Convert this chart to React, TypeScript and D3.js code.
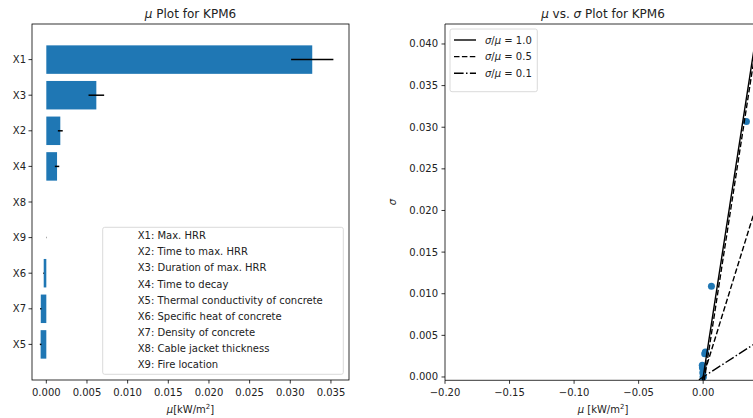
import React from "react";
import * as d3 from "d3";

// Morris screening results for KPM6
const categories = ["X1", "X3", "X2", "X4", "X8", "X9", "X6", "X7", "X5"];
const muValues = [0.0327, 0.00615, 0.00172, 0.00132, 0, 0.000005, -0.00032, -0.00068, -0.0007];
const muErrors = [0.0026, 0.00096, 0.0003, 0.00027, 0, 0.00002, 0.00004, 0.00008, 0.0001];

const legendLabels = [
  "X1: Max. HRR",
  "X2: Time to max. HRR",
  "X3: Duration of max. HRR",
  "X4: Time to decay",
  "X5: Thermal conductivity of concrete",
  "X6: Specific heat of concrete",
  "X7: Density of concrete",
  "X8: Cable jacket thickness",
  "X9: Fire location",
];

// mu / sigma pairs for the covariance plot
const pointMu = [0.0335, 0.0064, 0.0017, 0.0012, -0.0007, -0.0006, -0.0003, 0, 0.00002];
const pointSigma = [0.0307, 0.0109, 0.003, 0.0028, 0.0014, 0.0011, 0.0005, 0, 0.00003];

const ratios = [1.0, 0.5, 0.1];
const ratioDash = ["", "5.5,2.4", "9.6,2.4,1.5,2.4"];
const ratioLabels = ["1.0", "0.5", "0.1"];

const xTicksLeft = d3.range(0, 0.0351, 0.005);
const xTicksRight = [-0.2, -0.15, -0.1, -0.05, 0.0];
const yTicksRight = d3.range(0, 0.0401, 0.005);

const FONT = "DejaVu Sans";
const BLUE = "#1f77b4";

export default function App() {
  // left panel: horizontal bars of mu with error bars
  const L = { left: 32, right: 349, top: 24, bottom: 380 };
  const xL = d3.scaleLinear().domain([-0.00176, 0.03722]).range([L.left, L.right]);
  const yL = d3.scaleLinear().domain([-1, 9]).range([L.top, L.bottom]);
  const barH = yL(0.4) - yL(-0.4);

  // right panel: sigma vs mu
  const R = { left: 445, right: 761, top: 24, bottom: 380.3 };
  const xR = d3.scaleLinear().domain([-0.2, 0.0448]).range([R.left, R.right]);
  const yR = d3.scaleLinear().domain([-0.0004, 0.0424]).range([R.bottom, R.top]);
  const xBounds = xR.domain();

  const refLine = (r: number, offset = 0) =>
    d3.line<number>()
      .x((m) => xR(m))
      .y((m) => yR(r * (m - offset)))(xBounds) as string;

  const fmt3 = d3.format(".3f");
  const fmt2 = (v: number) => d3.format(".2f")(v).replace("-", "\u2212");

  return (
    <svg
      width={753}
      height={418}
      style={{ position: "absolute", left: 0, top: 0, background: "#fff" }}
      fontFamily={FONT}
    >
      <defs>
        <clipPath id="clipR">
          <rect x={R.left} y={R.top} width={R.right - R.left} height={R.bottom - R.top} />
        </clipPath>
      </defs>

      {/* ---------- left panel ---------- */}
      <text x={(L.left + L.right) / 2} y={18} fontSize={12} textAnchor="middle" fill="#222">
        <tspan fontStyle="italic">μ</tspan> Plot for KPM6
      </text>

      {categories.map((c, i) => {
        const v = muValues[i];
        const x0 = xL(Math.min(0, v));
        const x1 = xL(Math.max(0, v));
        return (
          <g key={c}>
            {Math.abs(x1 - x0) > 0.2 && (
              <rect x={x0} y={yL(i) - barH / 2} width={x1 - x0} height={barH} fill={BLUE} />
            )}
            {muErrors[i] > 0 && (
              <line
                x1={xL(v - muErrors[i])}
                x2={xL(v + muErrors[i])}
                y1={yL(i)}
                y2={yL(i)}
                stroke="#000"
                strokeWidth={1.5}
              />
            )}
          </g>
        );
      })}

      <rect
        x={L.left}
        y={L.top}
        width={L.right - L.left}
        height={L.bottom - L.top}
        fill="none"
        stroke="#000"
        strokeWidth={0.8}
      />

      {categories.map((c, i) => (
        <g key={"yt" + c}>
          <line x1={L.left - 3.5} x2={L.left} y1={yL(i)} y2={yL(i)} stroke="#000" strokeWidth={0.8} />
          <text x={L.left - 6} y={yL(i)} dy="0.35em" fontSize={10} textAnchor="end" fill="#222">
            {c}
          </text>
        </g>
      ))}

      {xTicksLeft.map((t) => (
        <g key={"xl" + t}>
          <line x1={xL(t)} x2={xL(t)} y1={L.bottom} y2={L.bottom + 3.5} stroke="#000" strokeWidth={0.8} />
          <text x={xL(t)} y={L.bottom + 16} fontSize={10} textAnchor="middle" fill="#222">
            {fmt3(t)}
          </text>
        </g>
      ))}
      <text x={(L.left + L.right) / 2} y={413} fontSize={10} textAnchor="middle" fill="#222">
        <tspan fontStyle="italic">μ</tspan>[kW/m
        <tspan dy={-4} fontSize={7}>2</tspan>
        <tspan dy={4}>]</tspan>
      </text>

      {/* variable legend */}
      <rect x={102.7} y={227.3} width={240.6} height={147} rx={2} fill="#fff" fillOpacity={0.8} stroke="#d0d0d0" strokeWidth={0.8} />
      {legendLabels.map((s, i) => (
        <text key={s} x={137.7} y={235.7 + i * 16.12} dy="0.35em" fontSize={10} fill="#222">
          {s}
        </text>
      ))}

      {/* ---------- right panel ---------- */}
      <text x={603} y={18} fontSize={12} textAnchor="middle" fill="#222">
        <tspan fontStyle="italic">μ</tspan> vs. <tspan fontStyle="italic">σ</tspan> Plot for KPM6
      </text>

      <g clipPath="url(#clipR)">
        {pointMu.map((m, i) => (
          <circle key={"p" + i} cx={xR(m)} cy={yR(pointSigma[i])} r={3.5} fill={BLUE} />
        ))}
        {ratios.map((r, i) => (
          <path
            key={"r" + r}
            d={refLine(r)}
            fill="none"
            stroke="#000"
            strokeWidth={1.4}
            strokeDasharray={ratioDash[i]}
          />
        ))}
        <path d={refLine(1.0, 0.0012)} fill="none" stroke="#000" strokeWidth={1.4} strokeDasharray="5.5,2.4" />
      </g>

      <line x1={R.left} x2={R.left} y1={R.top} y2={R.bottom} stroke="#000" strokeWidth={0.8} />
      <line x1={R.left} x2={R.right} y1={R.bottom} y2={R.bottom} stroke="#000" strokeWidth={0.8} />
      <line x1={R.left} x2={R.right} y1={R.top} y2={R.top} stroke="#000" strokeWidth={0.8} />
      <line x1={R.right} x2={R.right} y1={R.top} y2={R.bottom} stroke="#000" strokeWidth={0.8} />

      {yTicksRight.map((t) => (
        <g key={"yr" + t}>
          <line x1={R.left - 3.5} x2={R.left} y1={yR(t)} y2={yR(t)} stroke="#000" strokeWidth={0.8} />
          <text x={R.left - 7} y={yR(t)} dy="0.35em" fontSize={10} textAnchor="end" fill="#222">
            {fmt3(t)}
          </text>
        </g>
      ))}
      {xTicksRight.map((t) => (
        <g key={"xr" + t}>
          <line x1={xR(t)} x2={xR(t)} y1={R.bottom} y2={R.bottom + 3.5} stroke="#000" strokeWidth={0.8} />
          <text x={xR(t)} y={R.bottom + 16} fontSize={10} textAnchor="middle" fill="#222">
            {fmt2(t)}
          </text>
        </g>
      ))}
      <text x={603} y={413} fontSize={10} textAnchor="middle" fill="#222">
        <tspan fontStyle="italic">μ</tspan> [kW/m
        <tspan dy={-4} fontSize={7}>2</tspan>
        <tspan dy={4}>]</tspan>
      </text>
      <text
        transform={`translate(396,${(R.top + R.bottom) / 2}) rotate(-90)`}
        fontSize={10}
        textAnchor="middle"
        fontStyle="italic"
        fill="#222"
      >
        σ
      </text>

      {/* ratio legend */}
      <rect x={450} y={29} width={87.3} height={62.7} rx={2} fill="#fff" fillOpacity={0.8} stroke="#d0d0d0" strokeWidth={0.8} />
      {ratios.map((r, i) => {
        const yy = 40 + i * 16.65;
        return (
          <g key={"lg" + r}>
            <line x1={454} x2={476} y1={yy} y2={yy} stroke="#000" strokeWidth={1.4} strokeDasharray={ratioDash[i]} />
            <text x={485} y={yy} dy="0.35em" fontSize={10} fill="#222">
              <tspan fontStyle="italic">σ</tspan>/<tspan fontStyle="italic">μ</tspan> = {ratioLabels[i]}
            </text>
          </g>
        );
      })}
    </svg>
  );
}
